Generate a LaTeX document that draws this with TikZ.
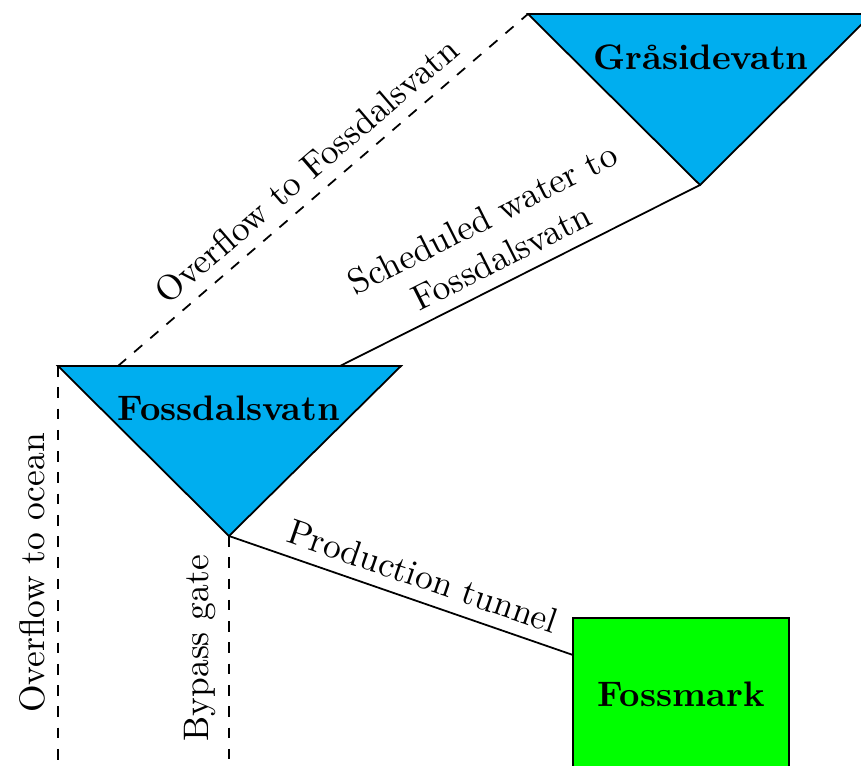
\documentclass[tikz,border=0pt]{standalone}
\definecolor{lakeblue}{RGB}{0,174,239}
\definecolor{plantgreen}{RGB}{0,255,0}
\begin{document}
\begin{tikzpicture}[x=0.282pt,y=-0.282pt,line width=0.5pt,
  lake/.style={fill=lakeblue,draw=black},
  flow/.style={draw=black},
  spill/.style={draw=black,dashed},
  plant/.style={draw=black,fill=plantgreen,font=\bfseries,inner sep=0pt},
  lakename/.style={font=\bfseries},
  uplabel/.style={rotate=90,anchor=south}]
\useasboundingbox (0,0) rectangle (861,765);
\clip (0,0) rectangle (861,765);
% vertices
\coordinate (GL) at (528,14);
\coordinate (GR) at (872,14);
\coordinate (GB) at (700,185);
\coordinate (FL) at (58,366);
\coordinate (FR) at (401,366);
\coordinate (FB) at (229,536);
\coordinate (FO) at (118,366);
\coordinate (FS) at (340,366);
\coordinate (oceanend) at (58,780);
\coordinate (bypassend) at (229,780);
\coordinate (MT) at (573,655);
% lakes
\filldraw[lake] (GL) -- (GR) -- (GB) -- cycle;
\filldraw[lake] (FL) -- (FR) -- (FB) -- cycle;
\node[lakename] (gras) at (701,57) {Gråsidevatn};
\node[lakename] (foss) at (229,408) {Fossdalsvatn};
% plant
\node[plant, minimum width=60.9pt, minimum height=42.9pt] (mark) at (681,694) {Fossmark};
% connectors
\draw[spill] (FO) -- node[sloped,above] (lo) {Overflow to Fossdalsvatn} (GL);
\draw[flow] (GB) -- node[sloped,above,align=center,pos=0.52] (ls) {Scheduled water to\\Fossdalsvatn} (FS);
\draw[flow] (FB) -- node[sloped,above,pos=0.54] (lp) {Production tunnel} (MT);
\draw[spill] (FL) -- node[uplabel,midway] (loc) {Overflow to ocean} (oceanend);
\draw[spill] (FB) -- node[uplabel,pos=0.46] (lb) {Bypass gate} (bypassend);
\end{tikzpicture}
\end{document}
